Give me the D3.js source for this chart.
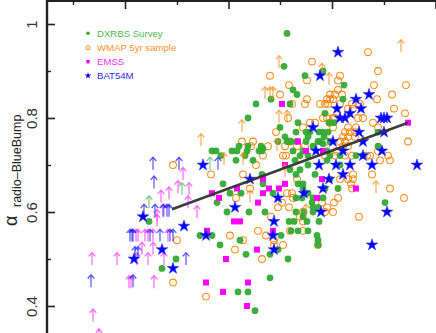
<!DOCTYPE html>
<html><head><meta charset="utf-8">
<script src="https://cdn.jsdelivr.net/npm/d3@7"></script>
<style>
html,body{margin:0;padding:0;background:#fff;}
svg{display:block;font-family:"Liberation Sans",Arial,Helvetica,sans-serif;}
</style></head>
<body><svg id="c" width="436" height="333"></svg>
<script>
// ---- data (x in arbitrary units, y = alpha_radio-BlueBump) ----
const dxrbsX=[23.9,23.6,24.5,24.9,22.3,20.8,24.2,20.0,23.2,24.8,23.7,23.0,23.9,19.1,20.0,21.3,21.5,21.4,16.4,16.8,17.3,18.4,18.8,19.7,20.5,24.7,21.4,24.2,17.5,18.2,19.3,16.9,21.5,22.5,24.8,17.9,20.1,21.7,24.1,24.6,24.3,25.0,15.2,16.4,23.3,19.2,23.0,17.2,19.8,22.2,24.0,12.8,11.4,22.2,19.0,20.0,20.7,10.1,25.7,27.7,25.0,25.8,26.2,27.1,26.0,24.3,24.9,27.0,27.6,26.5,25.2,26.0,25.5,27.5,29.6,29.5,28.1,27.5,28.0,33.0,25.8,27.2,33.0,28.2,30.8,31.5,27.9,29.2,26.0,25.0,25.5,25.4,26.0,26.4,26.5,27.0,27.5,25.6,26.5,25.9,27.1,26.0,26.9,27.0,27.0,29.0,33.7,25.5,26.5,28.6,18.9,19.9,21.1,24.5,25.2,24.8,26.7,28.2,27.7,24.8,27.5,28.2,29.2,27.9,25.5];
const dxrbsY=[0.98,0.91,0.86,0.85,0.84,0.83,0.83,0.80,0.78,0.77,0.76,0.75,0.75,0.74,0.74,0.74,0.735,0.73,0.73,0.73,0.72,0.73,0.71,0.72,0.71,0.71,0.68,0.69,0.66,0.64,0.64,0.62,0.66,0.64,0.60,0.60,0.60,0.60,0.58,0.58,0.56,0.56,0.55,0.55,0.55,0.54,0.52,0.53,0.51,0.51,0.50,0.50,0.48,0.46,0.43,0.43,0.39,0.58,0.89,0.81,0.79,0.77,0.77,0.77,0.76,0.75,0.75,0.75,0.76,0.74,0.72,0.72,0.73,0.90,0.87,0.84,0.79,0.77,0.77,0.77,0.75,0.75,0.74,0.72,0.72,0.72,0.71,0.70,0.70,0.66,0.66,0.63,0.64,0.62,0.61,0.61,0.63,0.60,0.60,0.58,0.58,0.56,0.55,0.54,0.53,0.65,0.62,0.65,0.63,0.79,0.73,0.73,0.73,0.73,0.69,0.68,0.68,0.67,0.65,0.63,0.745,0.75,0.72,0.73,0.59];

const wmapX=[12.5,22.2,24.1,23.2,24.0,22.8,24.2,19.4,20.5,22.0,20.8,23.8,16.3,19.5,24.9,18.8,20.2,23.9,24.4,23.4,24.1,22.3,21.0,18.2,21.8,22.6,12.9,18.7,21.4,12.5,15.8,32.0,26.4,33.0,29.2,29.0,35.8,32.6,29.0,28.7,29.4,34.4,25.9,28.2,32.9,27.2,27.7,25.7,30.4,34.6,27.5,27.9,28.5,31.5,35.7,25.5,28.5,30.0,32.5,36.0,29.5,32.2,33.2,34.2,25.9,28.0,27.9,26.2,26.7,27.9,20.3,23.7,24.9,25.7,27.7,21.5,23.5,23.0,24.2,25.5,19.5,22.6,23.5,34.2,35.6,31.1,32.4,30.3,28.6,29.0,28.5,25.5,27.0,30.5,30.4,27.4,27.9,27.7,28.2,28.5,29.2,30.5,30.0,31.2,31.0,28.7,28.2,33.0,30.8,29.7,30.2,30.7,29.5,30.0,30.7,29.2,29.7,30.0,28.9,29.7,28.7,30.4,31.9,33.0,34.0,24.4,30.0,30.5,29.2,24.5,25.5,25.2];
const wmapY=[0.70,0.89,0.87,0.85,0.80,0.77,0.75,0.75,0.75,0.74,0.70,0.72,0.68,0.68,0.67,0.63,0.65,0.64,0.64,0.62,0.61,0.59,0.56,0.55,0.55,0.53,0.54,0.52,0.50,0.45,0.42,0.94,0.92,0.90,0.89,0.88,0.87,0.87,0.86,0.85,0.85,0.85,0.84,0.84,0.84,0.83,0.83,0.83,0.83,0.82,0.80,0.80,0.80,0.80,0.81,0.78,0.78,0.78,0.79,0.75,0.74,0.72,0.71,0.71,0.88,0.83,0.84,0.79,0.79,0.75,0.74,0.74,0.74,0.74,0.72,0.72,0.72,0.61,0.56,0.56,0.54,0.54,0.53,0.65,0.63,0.59,0.68,0.66,0.62,0.63,0.60,0.58,0.53,0.68,0.65,0.62,0.61,0.60,0.85,0.84,0.83,0.82,0.82,0.83,0.80,0.80,0.79,0.78,0.78,0.77,0.77,0.77,0.76,0.76,0.76,0.75,0.75,0.74,0.73,0.72,0.72,0.72,0.72,0.73,0.72,0.83,0.67,0.67,0.67,0.63,0.60,0.59];

const emssX=[23.4,25.0,23.7,21.5,16.4,17.1,18.9,21.5,22.1,23.1,23.7,21.0,18.6,19.2,15.9,22.5,20.9,17.8,15.8,20.0,17.5,19.9,36.0,27.5,25.8,30.8,27.4,26.9];
const emssY=[0.83,0.75,0.70,0.67,0.64,0.63,0.65,0.64,0.65,0.65,0.66,0.62,0.58,0.58,0.56,0.56,0.52,0.50,0.45,0.45,0.43,0.40,0.79,0.73,0.73,0.65,0.67,0.63];

const batX=[15.5,20.2,23.0,18.7,22.6,13.6,15.8,22.5,22.6,11.4,12.5,9.5,8.6,29.0,27.2,32.1,30.8,28.9,31.3,29.2,29.7,30.2,33.3,33.6,33.9,26.5,31.1,33.6,28.5,31.5,33.4,26.8,29.5,27.1,28.8,30.2,32.4,36.9,31.5,29.5,28.1,27.5,25.6,27.3,33.9,32.4];
const batY=[0.70,0.67,0.63,0.61,0.58,0.57,0.55,0.55,0.52,0.52,0.48,0.59,0.50,0.94,0.89,0.85,0.84,0.82,0.82,0.80,0.80,0.81,0.80,0.80,0.80,0.78,0.77,0.77,0.75,0.75,0.73,0.73,0.73,0.70,0.70,0.70,0.70,0.70,0.72,0.68,0.67,0.65,0.64,0.60,0.60,0.53];

// lower limits (arrows)
const wmapLimX=[23.1,21.7,22.2,22.5,23.1,23.9,19.4,22.9,15.3,17.6,19.5,20.2,23.7,35.3,27.4,28.1,32.8,25.8];
const wmapLimY=[0.906,0.84,0.84,0.84,0.79,0.79,0.77,0.73,0.74,0.70,0.70,0.62,0.675,0.94,0.89,0.87,0.64,0.59];
const batLimX=[10.5,13.1,17.0,10.6,9.6,10.7,11.5,11.9,12.1,8.2,8.4,8.5,10.2,11.2,12.2,12.5,13.8,8.7,9.0,4.3,8.5];
const batLimY=[0.69,0.69,0.69,0.65,0.59,0.59,0.59,0.59,0.59,0.537,0.537,0.537,0.537,0.537,0.537,0.537,0.487,0.50,0.50,0.44,0.44];
const emssLimX=[11.3,12.1,13.0,14.1,13.5,14.0,14.9,10.9,10.9,11.6,8.8,9.0,9.7,10.0,10.5,12.0,9.4,10.5,4.4,6.9,8.9,10.0,11.6,8.1,8.3,10.6,4.5,5.1];
const emssLimY=[0.62,0.627,0.64,0.636,0.668,0.608,0.587,0.579,0.569,0.59,0.537,0.537,0.537,0.537,0.537,0.537,0.509,0.509,0.487,0.487,0.487,0.487,0.487,0.438,0.438,0.438,0.367,0.325];
const dxrbsLimX=[16.2,13.4,10.1];
const dxrbsLimY=[0.69,0.636,0.608];

// fit line endpoints
const fitX=[12.4,36.0];
const fitY=[0.606,0.79];

// ticks
const yMajor=[0.4,0.6,0.8,1];
const yMinor=[0.5,0.7,0.9];
const xMajor=[7.7,18.05,28.4,38.75];
const xMinor=[2.5,12.9,23.2,33.6];

const legendNames=["DXRBS Survey","WMAP 5yr sample","EMSS","BAT54M"];
const colors={dxrbs:"#33aa33",wmap:"#ff8000",emss:"#ff00ff",bat:"#0000ff"};

// ---- drawing ----
const svg=d3.select("#c");
const W=436,H=333;
const x=d3.scaleLinear().domain([0,38.8]).range([48,436]);
const y=d3.scaleLinear().domain([0.4,1]).range([306,24]);

const zip=(a,b)=>a.map((v,i)=>[v,b[i]]);

// WMAP open circles
svg.append("g").selectAll("circle").data(zip(wmapX,wmapY)).join("circle")
  .attr("cx",d=>x(d[0])).attr("cy",d=>y(d[1])).attr("r",3.4)
  .attr("fill","none").attr("stroke",colors.wmap).attr("stroke-width",1.05).attr("opacity",0.9);
// DXRBS filled dots
svg.append("g").selectAll("circle").data(zip(dxrbsX,dxrbsY)).join("circle")
  .attr("cx",d=>x(d[0])).attr("cy",d=>y(d[1])).attr("r",3.4)
  .attr("fill",colors.dxrbs).attr("opacity",0.95);
// EMSS squares
svg.append("g").selectAll("rect").data(zip(emssX,emssY)).join("rect")
  .attr("x",d=>x(d[0])-3).attr("y",d=>y(d[1])-3).attr("width",6).attr("height",6)
  .attr("fill",colors.emss);

// arrows
function arrows(xs,ys,col,op){
  svg.append("g").selectAll("path").data(zip(xs,ys)).join("path")
    .attr("d",d=>{const px=x(d[0]),py=y(d[1]);
      return `M${px},${py}L${px},${py-12.5}M${px-3.3},${py-8.7}L${px},${py-12.5}L${px+3.3},${py-8.7}`;})
    .attr("fill","none").attr("stroke",col).attr("stroke-width",1.2).attr("opacity",op);
}
arrows(wmapLimX,wmapLimY,"#ff8c1a",0.75);
arrows(emssLimX,emssLimY,"#ff33ff",0.75);
arrows(batLimX,batLimY,"#1a1aff",0.75);
arrows(dxrbsLimX,dxrbsLimY,"#55bb55",0.75);

// BAT stars
const star=d3.symbol().type(d3.symbolStar).size(42);
svg.append("g").selectAll("path").data(zip(batX,batY)).join("path")
  .attr("transform",d=>`translate(${x(d[0])},${y(d[1])})`)
  .attr("d",star).attr("fill",colors.bat).attr("stroke","#3333ff").attr("stroke-width",0.6);

// fit line
svg.append("line")
  .attr("x1",x(fitX[0])).attr("y1",y(fitY[0])).attr("x2",x(fitX[1])).attr("y2",y(fitY[1]))
  .attr("stroke","#333").attr("stroke-width",2.6).attr("opacity",0.95);

// axes
const axcol="#222";
svg.append("line").attr("x1",47).attr("x2",47).attr("y1",0).attr("y2",H).attr("stroke",axcol).attr("stroke-width",2.4);
svg.append("line").attr("x1",46).attr("x2",W).attr("y1",1).attr("y2",1).attr("stroke",axcol).attr("stroke-width",2.2);

const yAx=svg.append("g").attr("transform","translate(47,0)")
  .call(d3.axisLeft(y).tickValues(yMajor).tickSizeInner(-8).tickSizeOuter(0).tickFormat(d3.format("")));
yAx.select(".domain").remove();
yAx.selectAll(".tick line").attr("stroke",axcol).attr("stroke-width",1.6);
yAx.selectAll(".tick text").attr("x",null).attr("dy",null).attr("y",-10.5)
  .attr("transform","rotate(-90)").attr("text-anchor","middle")
  .attr("font-size",15).attr("fill","#333").attr("font-family","Liberation Sans, Arial, sans-serif");

const yAxm=svg.append("g").attr("transform","translate(47,0)")
  .call(d3.axisLeft(y).tickValues(yMinor).tickSizeInner(-4).tickSizeOuter(0).tickFormat(""));
yAxm.select(".domain").remove();
yAxm.selectAll(".tick line").attr("stroke",axcol).attr("stroke-width",1.4);

const xAx=svg.append("g").attr("transform","translate(0,1)")
  .call(d3.axisTop(x).tickValues(xMajor).tickSizeInner(-8).tickSizeOuter(0).tickFormat(""));
xAx.select(".domain").remove();
xAx.selectAll(".tick line").attr("stroke",axcol).attr("stroke-width",1.6);
const xAxm=svg.append("g").attr("transform","translate(0,1)")
  .call(d3.axisTop(x).tickValues(xMinor).tickSizeInner(-4).tickSizeOuter(0).tickFormat(""));
xAxm.select(".domain").remove();
xAxm.selectAll(".tick line").attr("stroke",axcol).attr("stroke-width",1.4);

// y label
svg.append("text").attr("transform","translate(16.5,226) rotate(-90)")
  .attr("font-size",18).attr("fill","#222").text("α");
svg.append("text").attr("transform","translate(21,207) rotate(-90)")
  .attr("font-size",12.5).attr("fill","#222").text("radio–BlueBump");

// legend
const ly=[33.3,47.7,61.7,75.7];
const lc=[colors.dxrbs,colors.wmap,colors.emss,colors.bat];
const lg=svg.append("g");
lg.append("circle").attr("cx",88).attr("cy",ly[0]).attr("r",1.8).attr("fill",lc[0]);
lg.append("circle").attr("cx",88).attr("cy",ly[1]).attr("r",2).attr("fill","none").attr("stroke",lc[1]).attr("stroke-width",0.9);
lg.append("rect").attr("x",86.3).attr("y",ly[2]-1.7).attr("width",3.4).attr("height",3.4).attr("fill",lc[2]);
lg.append("path").attr("transform",`translate(88,${ly[3]})`).attr("d",d3.symbol().type(d3.symbolStar).size(14)).attr("fill",lc[3]);
legendNames.forEach((n,i)=>{
  lg.append("text").attr("x",97).attr("y",ly[i]).attr("dy","0.36em")
    .attr("font-size",9.6).attr("fill",lc[i]).attr("opacity",0.85).text(n);
});
</script></body></html>
